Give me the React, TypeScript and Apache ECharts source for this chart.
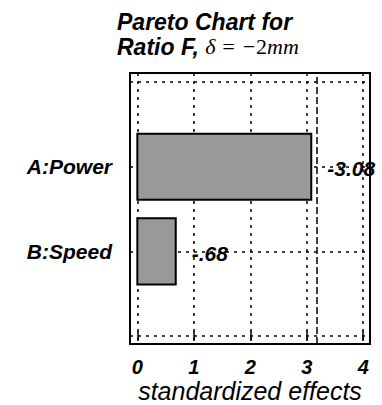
import React, { useEffect, useRef } from "react";
import * as echarts from "echarts";

const factors = ["A:Power", "B:Speed"];
const factorPositions = [2, 1];
const effects = [3.08, 0.68];
const effectLabels = ["-3.08", "-.68"];
const xTicks = [0, 1, 2, 3, 4];
const yGridValues = [0, 1, 2, 3];
const criticalValue = 3.182;
const titleLine1 = "Pareto Chart for";
const titleLine2a = "Ratio F, ";
const titleLine2b = "δ = −";
const titleLine2c = "2";
const titleLine2d = "mm";
const xAxisName = "standardized effects";

const SANS = '"Liberation Sans", Arial, sans-serif';
const SERIF = '"Liberation Serif", "Times New Roman", serif';

export default function App() {
  const ref = useRef<HTMLDivElement>(null);
  useEffect(() => {
    if (!ref.current) return;
    const chart = echarts.init(ref.current, null, { renderer: "svg" });
    const dotted = { color: "#000", width: 1.5, type: [3, 5] as number[] };
    const option: any = {
      animation: false,
      backgroundColor: "#fff",
      title: {
        left: 112,
        top: 4,
        text: `{a|${titleLine1}}\n{a|${titleLine2a}}{b|${titleLine2b}}{c|${titleLine2c}}{b|${titleLine2d}}`,
        textStyle: {
          rich: {
            a: { fontFamily: SANS, fontSize: 23, fontWeight: "bold", fontStyle: "italic", color: "#000", lineHeight: 25 },
            b: { fontFamily: SERIF, fontSize: 22, fontWeight: "normal", fontStyle: "italic", color: "#000", lineHeight: 25 },
            c: { fontFamily: SERIF, fontSize: 22, fontWeight: "normal", fontStyle: "normal", color: "#000", lineHeight: 25 },
          },
        },
      },
      grid: {
        left: 130,
        right: 12,
        top: 73,
        bottom: 61,
        show: true,
        borderColor: "#000",
        borderWidth: 2,
        backgroundColor: "transparent",
        containLabel: false,
        outerBoundsMode: "none",
      },
      xAxis: [
        {
          type: "value",
          position: "bottom",
          min: -0.13,
          max: 4.12,
          axisLine: { show: false },
          axisTick: { show: true, inside: true, length: 5, customValues: xTicks, lineStyle: { color: "#000", width: 1.5 } },
          axisLabel: {
            customValues: xTicks,
            margin: 13,
            fontFamily: SANS,
            fontSize: 20,
            fontWeight: "bold",
            fontStyle: "italic",
            color: "#000",
            formatter: (v: number) => String(v),
          },
          splitLine: { show: true, lineStyle: dotted },
          name: xAxisName,
          nameLocation: "middle",
          nameGap: 34,
          nameMoveOverlap: false,
          nameTextStyle: { fontFamily: SANS, fontSize: 25, lineHeight: 26, fontStyle: "italic", color: "#000" },
        },
        {
          type: "value",
          position: "top",
          min: -0.13,
          max: 4.12,
          axisLine: { show: false },
          axisTick: { show: true, inside: true, length: 5, customValues: xTicks, lineStyle: { color: "#000", width: 1.5 } },
          axisLabel: { show: false },
          splitLine: { show: false },
        },
      ],
      yAxis: [
        {
          type: "value",
          position: "left",
          min: -0.094,
          max: 3.106,
          axisLine: { show: false },
          axisTick: { show: false, customValues: yGridValues },
          axisLabel: {
            customValues: factorPositions,
            margin: 18,
            fontFamily: SANS,
            fontSize: 21,
            fontWeight: "bold",
            fontStyle: "italic",
            color: "#000",
            formatter: (v: number) => {
              const i = factorPositions.indexOf(v);
              return i >= 0 ? factors[i] : "";
            },
          },
          splitLine: { show: true, lineStyle: dotted },
        },
        {
          type: "value",
          position: "left",
          min: -0.094,
          max: 3.106,
          axisLine: { show: false },
          axisTick: { show: true, inside: true, length: 7, customValues: factorPositions, lineStyle: { color: "#000", width: 2 } },
          axisLabel: { show: false },
          splitLine: { show: false },
        },
      ],
      series: [
        {
          type: "custom",
          xAxisIndex: 0,
          yAxisIndex: 0,
          data: effects.map((v, i) => [v, factorPositions[i]]),
          renderItem: (params: any, api: any) => {
            const v = api.value(0);
            const y = api.value(1);
            const s = api.coord([0, y]);
            const e = api.coord([v, y]);
            const h = api.size([0, 0.78])[1];
            return {
              type: "group",
              children: [
                {
                  type: "rect",
                  shape: { x: s[0], y: s[1] - h / 2, width: e[0] - s[0], height: h },
                  style: { fill: "#999999", stroke: "#000", lineWidth: 2 },
                },
                {
                  type: "text",
                  style: {
                    text: effectLabels[params.dataIndex],
                    x: e[0] + 16,
                    y: e[1] + 2,
                    verticalAlign: "middle",
                    align: "left",
                    font: `italic bold 21px ${SANS}`,
                    fill: "#000",
                  },
                },
              ],
            };
          },
          markLine: {
            silent: true,
            symbol: "none",
            label: { show: false },
            lineStyle: { color: "#000", width: 1.5, type: [7, 3] },
            data: [{ xAxis: criticalValue }],
          },
        },
      ],
    };
    chart.setOption(option);
    return () => chart.dispose();
  }, []);
  return <div ref={ref} style={{ width: 382, height: 405, position: "absolute", left: 0, top: 0 }} />;
}
